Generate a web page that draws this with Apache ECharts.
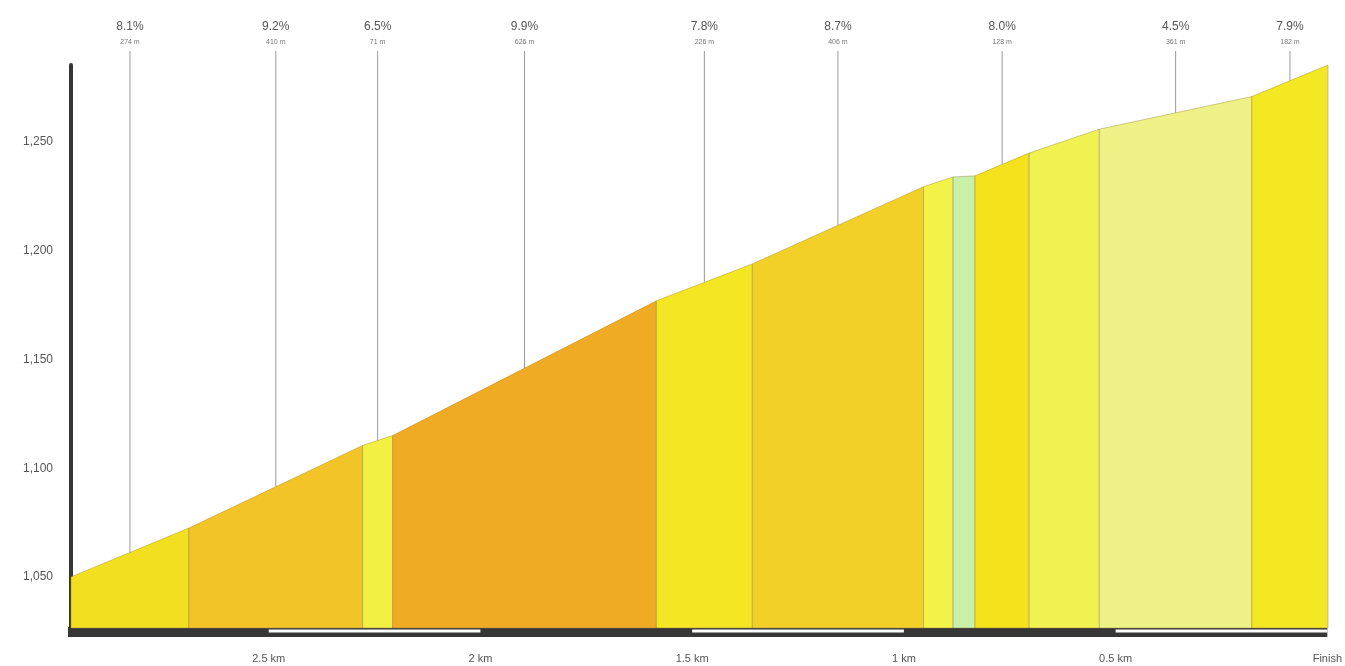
<!DOCTYPE html>
<html>
<head>
<meta charset="utf-8">
<script src="https://cdn.jsdelivr.net/npm/echarts@6/dist/echarts.min.js"></script>
<style>html,body{margin:0;padding:0;background:#fff}#c{width:1345px;height:666px}</style>
</head>
<body>
<div id="c"></div>
<script>
// Segment boundaries: distance to finish (km) and elevation (m)
const boundaryKm = [2.974, 2.695, 2.284, 2.213, 1.589, 1.362, 0.957, 0.887, 0.835, 0.707, 0.541, 0.180, 0];
const boundaryElev = [1050, 1072.5, 1110.5, 1115, 1177, 1194, 1229.5, 1234, 1234.5, 1245, 1256, 1271, 1285.5];
const segColors = ['#f2e020', '#f2c427', '#f2f040', '#f0ab25', '#f4e622', '#f2d028', '#f2f248', '#c8f0a8', '#f6e21c', '#f0f252', '#eef286', '#f4e822'];
const segGrades = ['8.1%', '9.2%', '6.5%', '9.9%', '7.8%', '8.7%', '', '', '8.0%', '', '4.5%', '7.9%'];
const segLengths = ['274 m', '410 m', '71 m', '626 m', '226 m', '406 m', '', '', '128 m', '', '361 m', '182 m'];
const xTicks = [0, 0.5, 1, 1.5, 2, 2.5];
const xTickLabels = ['Finish', '0.5 km', '1 km', '1.5 km', '2 km', '2.5 km'];
const yTicks = [1050, 1100, 1150, 1200, 1250];
const stripeRanges = [[2.5, 2.0], [1.5, 1.0], [0.5, 0]];

const segData = segColors.map((c, i) => [boundaryKm[i], boundaryKm[i + 1], boundaryElev[i], boundaryElev[i + 1]]);
const yMin = 1026.5, yMax = 1285.5;
const font = '"Liberation Sans", Arial, sans-serif';

const stripeSeries = stripeRanges.map(r => ({
  type: 'line', xAxisIndex: 1, yAxisIndex: 1, symbol: 'none', silent: true,
  data: [[r[0], 0.6], [r[1], 0.6]],
  lineStyle: { color: '#ffffff', width: 3 }, z: 5
}));

const chart = echarts.init(document.getElementById('c'), null, { renderer: 'canvas' });
chart.setOption({
  animation: false,
  backgroundColor: '#ffffff',
  grid: [
    { left: 71, right: 17, top: 65, bottom: 38 },
    { left: 68, right: 17, top: 627, height: 10, show: true, backgroundColor: '#363636', borderWidth: 0 }
  ],
  xAxis: [
    { type: 'value', gridIndex: 0, min: 0, max: boundaryKm[0], inverse: true,
      axisLine: { show: false }, axisTick: { show: false }, axisLabel: { show: false }, splitLine: { show: false } },
    { type: 'value', gridIndex: 1, min: 0, max: boundaryKm[0], inverse: true, interval: 0.5,
      axisLine: { show: false }, axisTick: { show: false }, splitLine: { show: false },
      axisLabel: { margin: 16, fontSize: 11, color: '#555', fontFamily: font,
        formatter: v => { const k = xTicks.findIndex(t => Math.abs(t - v) < 1e-6); return k >= 0 ? xTickLabels[k] : ''; } } }
  ],
  yAxis: [
    { type: 'value', gridIndex: 0, min: yMin, max: yMax, position: 'left',
      axisLine: { show: true, onZero: false, lineStyle: { color: '#363636', width: 4 } },
      axisTick: { show: false }, splitLine: { show: false },
      axisLabel: { margin: 18, fontSize: 12, color: '#555', fontFamily: font,
        formatter: v => yTicks.indexOf(v) >= 0 ? (Math.floor(v / 1000) + ',' + String(v % 1000).padStart(3, '0')) : '' } },
    { type: 'value', gridIndex: 1, min: 0, max: 1, show: false }
  ],
  series: [
    {
      type: 'custom', xAxisIndex: 0, yAxisIndex: 0, clip: false, silent: true,
      data: segData,
      renderItem: function (params, api) {
        const i = params.dataIndex;
        const p0 = api.coord([api.value(0), api.value(2)]);
        const p1 = api.coord([api.value(1), api.value(3)]);
        const b0 = api.coord([api.value(0), yMin]);
        const b1 = api.coord([api.value(1), yMin]);
        const children = [{
          type: 'polygon',
          shape: { points: [p0, p1, b1, b0] },
          style: { fill: segColors[i], stroke: 'rgba(150,130,70,0.45)', lineWidth: 1 }
        }];
        if (segGrades[i]) {
          const mx = (p0[0] + p1[0]) / 2, my = (p0[1] + p1[1]) / 2;
          children.push({ type: 'line', shape: { x1: mx, y1: 51, x2: mx, y2: my }, style: { stroke: '#9a9a9a', lineWidth: 1 } });
          children.push({ type: 'text', style: { x: mx, y: 27, text: segGrades[i], fill: '#555', font: '12px ' + font, align: 'center', verticalAlign: 'middle' } });
          children.push({ type: 'text', style: { x: mx, y: 42, text: segLengths[i], fill: '#777', font: '7px ' + font, align: 'center', verticalAlign: 'middle' } });
        }
        return { type: 'group', children: children };
      }
    }
  ].concat(stripeSeries)
});
</script>
</body>
</html>
